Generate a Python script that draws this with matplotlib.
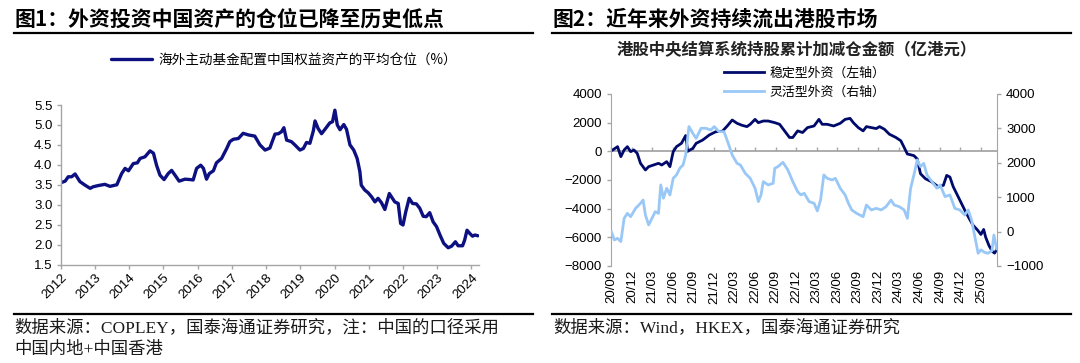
import matplotlib
matplotlib.use("Agg")
import matplotlib.pyplot as plt
from matplotlib.lines import Line2D
import numpy as np

plt.rcParams['font.family'] = ['Liberation Sans', 'Noto Sans CJK SC', 'DejaVu Sans']
CJK = ['Noto Sans CJK SC', 'DejaVu Sans']
SRC = ['Liberation Serif', 'Noto Sans CJK SC', 'DejaVu Sans']

# ---------------- Data: Figure 1 ----------------
title1 = "图1：外资投资中国资产的仓位已降至历史低点"
legend1 = "海外主动基金配置中国权益资产的平均仓位（%）"
source1_lines = ["数据来源：COPLEY，国泰海通证券研究，注：中国的口径采用", "中国内地+中国香港"]
pos_year = [2012.00, 2012.13, 2012.22, 2012.32, 2012.42, 2012.56, 2012.71, 2012.86, 2012.95,
            2013.10, 2013.29, 2013.44, 2013.64, 2013.78, 2013.88, 2013.98, 2014.12, 2014.24,
            2014.32, 2014.46, 2014.61, 2014.71, 2014.80, 2014.90, 2015.02, 2015.14, 2015.24,
            2015.34, 2015.46, 2015.63, 2015.78, 2015.87, 2015.97, 2016.09, 2016.17, 2016.26,
            2016.34, 2016.46, 2016.55, 2016.70, 2016.85, 2016.94, 2017.04, 2017.19, 2017.33,
            2017.48, 2017.67, 2017.82, 2017.97, 2018.11, 2018.26, 2018.36, 2018.45, 2018.52,
            2018.60, 2018.74, 2018.84, 2018.99, 2019.09, 2019.18, 2019.28, 2019.38, 2019.43,
            2019.52, 2019.62, 2019.72, 2019.86, 2019.94, 2020.01, 2020.08, 2020.16, 2020.27,
            2020.35, 2020.45, 2020.56, 2020.66, 2020.74, 2020.78, 2020.88, 2020.98, 2021.08,
            2021.18, 2021.27, 2021.37, 2021.47, 2021.60, 2021.66, 2021.76, 2021.86, 2021.93,
            2022.00, 2022.08, 2022.18, 2022.28, 2022.39, 2022.49, 2022.59, 2022.68, 2022.78,
            2022.88, 2022.98, 2023.08, 2023.19, 2023.32, 2023.42, 2023.53, 2023.61, 2023.74,
            2023.80, 2023.87, 2023.95, 2024.03, 2024.10, 2024.19]
pos_value = [3.55, 3.59, 3.70, 3.70, 3.77, 3.58, 3.49, 3.41, 3.45,
             3.48, 3.51, 3.46, 3.50, 3.78, 3.91, 3.85, 4.03, 4.05,
             4.16, 4.20, 4.35, 4.29, 3.99, 3.74, 3.63, 3.78, 3.86,
             3.74, 3.59, 3.64, 3.63, 3.62, 3.91, 3.99, 3.91, 3.64,
             3.78, 3.85, 4.05, 4.16, 4.41, 4.58, 4.64, 4.66, 4.79,
             4.75, 4.72, 4.50, 4.37, 4.42, 4.77, 4.78, 4.83, 4.93,
             4.62, 4.58, 4.50, 4.37, 4.41, 4.56, 4.54, 4.85, 5.10,
             4.91, 4.78, 4.89, 5.05, 5.08, 5.37, 5.00, 4.88, 5.01,
             4.89, 4.50, 4.37, 4.16, 3.83, 3.49, 3.37, 3.30, 3.20,
             3.07, 3.16, 3.05, 2.88, 3.28, 3.20, 3.07, 3.03, 2.53,
             2.49, 2.82, 3.16, 3.03, 3.02, 2.91, 2.71, 2.70, 2.80,
             2.57, 2.45, 2.24, 2.03, 1.92, 1.96, 2.07, 1.97, 1.97,
             2.11, 2.36, 2.28, 2.21, 2.24, 2.22]
year_ticks = list(range(2012, 2025))
y1_ticks = [1.5, 2.0, 2.5, 3.0, 3.5, 4.0, 4.5, 5.0, 5.5]

# ---------------- Data: Figure 2 ----------------
title2 = "图2：近年来外资持续流出港股市场"
chart2_title = "港股中央结算系统持股累计加减仓金额（亿港元）"
stable_label = "稳定型外资（左轴）"
flex_label = "灵活型外资（右轴）"
source2 = "数据来源：Wind，HKEX，国泰海通证券研究"
# months elapsed since 2020/09
stable_month = [0.19, 0.91, 1.39, 1.87, 2.34, 2.82, 3.30, 3.78, 4.26, 4.98, 5.45, 6.17, 6.89,
                7.37, 8.09, 8.56, 9.04, 9.52, 10.24, 10.86, 11.15, 11.91, 12.39, 13.35, 14.31,
                15.26, 16.22, 16.94, 17.66, 18.37, 19.09, 19.81, 20.29, 21.00, 21.48, 22.20,
                22.92, 23.88, 24.59, 25.31, 26.03, 26.51, 27.22, 27.94, 28.66, 29.62, 30.33,
                30.81, 31.53, 32.49, 33.44, 34.16, 34.88, 35.36, 36.08, 36.79, 37.27, 37.99,
                38.71, 39.19, 39.90, 40.62, 41.58, 42.30, 42.78, 43.25, 44.21, 44.69, 45.17,
                45.89, 46.84, 47.80, 48.52, 49.00, 49.47, 49.95, 50.91, 51.87, 52.82, 53.50,
                54.00, 54.40, 54.70, 55.20, 55.70, 56.00, 56.30]
stable_value = [93, 326, -372, 93, 326, -23, 93, -140, -837, -1300, -1070, -953, -837,
                -953, -720, -1070, -23, 326, 558, 1100, 0, 209, 558, 790, 1140,
                1370, 1400, 1770, 2185, 1955, 1817, 1725, 1886, 2230, 2000, 2116,
                2116, 2000, 1886, 1426, 966, 966, 1426, 1311, 1656, 1770, 2230,
                1886, 1886, 1770, 1955, 2230, 2300, 2000, 1656, 1426, 1725, 1656,
                1587, 1725, 1540, 1196, 966, 736, 276, -184, -300, -530, -1564,
                -1909, -2139, -2484, -2369, -1679, -1794, -2465, -3395, -4326, -5140, -5490,
                -5800, -5450, -6000, -6600, -7000, -7100, -6850]
flex_month = [0.00, 0.43, 0.91, 1.39, 1.87, 2.34, 2.82, 3.54, 4.26, 4.64, 4.98, 5.45, 5.93,
              6.41, 6.89, 7.22, 7.61, 8.09, 8.56, 9.04, 9.52, 10.00, 10.48, 10.86, 11.34,
              11.91, 12.39, 13.11, 13.83, 14.55, 15.02, 15.74, 16.46, 17.08, 17.66, 18.37,
              18.85, 19.57, 20.29, 21.00, 21.48, 21.87, 22.20, 22.92, 23.64, 23.88, 24.35,
              25.07, 25.79, 26.51, 27.22, 27.70, 28.18, 28.90, 29.62, 30.10, 30.57, 31.05,
              31.53, 32.25, 32.73, 33.44, 34.16, 34.64, 35.12, 35.84, 36.79, 37.27, 37.99,
              38.71, 39.43, 40.14, 40.86, 41.34, 42.06, 42.78, 43.25, 43.73, 44.21, 44.69,
              45.17, 45.65, 46.12, 46.84, 47.56, 48.04, 48.76, 49.47, 50.19, 50.91, 51.63,
              52.15, 52.63, 53.11, 53.59, 54.00, 54.50, 55.00, 55.60, 55.90, 56.30]
flex_value = [0, -242, -196, -290, 385, 530, 434, 676, 822, 918, 484, 194, 385,
              580, 530, 1357, 969, 1260, 1066, 1550, 1647, 1841, 1938, 2229, 3053,
              2857, 2711, 3003, 3003, 2953, 3053, 2905, 2905, 2566, 2227, 1984,
              1938, 1694, 1550, 1260, 872, 1066, 1453, 1357, 1405, 1841, 1890,
              2014, 1793, 1453, 1162, 1066, 1114, 872, 822, 600, 918, 1647,
              1550, 1500, 1550, 1260, 1066, 822, 630, 530, 434, 773, 630,
              676, 630, 725, 918, 773, 725, 630, 385, 1260, 1647, 2083,
              1890, 1984, 1647, 1453, 1260, 1357, 1017, 1066, 676, 630, 484,
              630, 339, -145, -630, -530, -600, -630, -560, -100, -500]
quarter_labels = ["20/09", "20/12", "21/03", "21/06", "21/09", "21/12", "22/03", "22/06",
                  "22/09", "22/12", "23/03", "23/06", "23/09", "23/12", "24/03", "24/06",
                  "24/09", "24/12", "25/03"]
y2_left_ticks = [-8000, -6000, -4000, -2000, 0, 2000, 4000]
y2_right_ticks = [-1000, 0, 1000, 2000, 3000, 4000]

# ---------------- Figure ----------------
W, H = 1080, 363
fig = plt.figure(figsize=(W / 100, H / 100), dpi=100)
fig.patch.set_facecolor('white')

def fx(px):
    return px / W

def fy(py):
    return 1 - py / H

GRAY = '#a6a6a6'
NAVY1 = '#0d1080'
NAVY2 = '#000a6b'
LIGHT = '#99c8f7'

# titles and rules
fig.text(fx(14), fy(19), title1, family=CJK, fontsize=15, fontweight='bold', va='center', ha='left')
fig.text(fx(553), fy(19), title2, family=CJK, fontsize=15, fontweight='bold', va='center', ha='left')
for x0, x1 in [(14, 533), (552, 1071)]:
    fig.add_artist(Line2D([fx(x0), fx(x1)], [fy(33), fy(33)], color='black', lw=1.6))
    fig.add_artist(Line2D([fx(x0), fx(x1)], [fy(313.5), fy(313.5)], color='black', lw=1.6))

# sources
fig.text(fx(14), fy(328), source1_lines[0], family=SRC, fontsize=12.5, va='center', ha='left',
         color='#1a1a1a')
fig.text(fx(14), fy(350), source1_lines[1], family=SRC, fontsize=12.5, va='center', ha='left',
         color='#1a1a1a')
fig.text(fx(553), fy(328), source2, family=SRC, fontsize=12.5, va='center', ha='left',
         color='#1a1a1a')

# ---------------- Chart 1 ----------------
ax1 = fig.add_axes([fx(60.7), fy(264.5), fx(479 - 60.7), (264.5 - 105) / H])
line1, = ax1.plot(pos_year, pos_value, color=NAVY1, lw=2.4, solid_joinstyle='round',
                  solid_capstyle='round', label=legend1)
ax1.set_xlim(2012, 2024.22)
ax1.set_ylim(1.5, 5.5)
ax1.set_yticks(y1_ticks)
ax1.set_yticklabels([f"{v:.1f}" for v in y1_ticks])
ax1.set_xticks(year_ticks)
ax1.set_xticklabels([str(y) for y in year_ticks], rotation=45, ha='right',
                    rotation_mode='anchor')
for s in ['top', 'right']:
    ax1.spines[s].set_visible(False)
for s in ['left', 'bottom']:
    ax1.spines[s].set_color(GRAY)
    ax1.spines[s].set_linewidth(1.0)
ax1.tick_params(axis='both', colors=GRAY, labelcolor='black', labelsize=9.5, length=3, width=1.0)
ax1.tick_params(axis='x', pad=2)
ax1.tick_params(axis='y', pad=3)

fig.legend(handles=[line1], labels=[legend1], loc='center left',
           bbox_to_anchor=(fx(111), fy(60)), frameon=False, borderpad=0, borderaxespad=0,
           handlelength=3.0, handletextpad=0.5, prop={'family': CJK, 'size': 9.8})

# ---------------- Chart 2 ----------------
ax2 = fig.add_axes([fx(611), fy(266), fx(997 - 611), (266 - 94) / H])
ax2r = ax2.twinx()
ax2.axhline(0, color=GRAY, lw=1.3, zorder=1)
l_stable, = ax2.plot(stable_month, stable_value, color=NAVY2, lw=2.0, zorder=2,
                     solid_joinstyle='round', label=stable_label)
l_flex, = ax2r.plot(flex_month, flex_value, color=LIGHT, lw=2.0, zorder=3,
                    solid_joinstyle='round', label=flex_label)
ax2.set_xlim(-0.05, 56.35)
ax2.set_ylim(-8000, 4000)
ax2r.set_ylim(-1000, 4000)
ax2.set_yticks(y2_left_ticks)
ax2r.set_yticks(y2_right_ticks)
qticks = [3 * i for i in range(len(quarter_labels))]
ax2.set_xticks(qticks)
ax2.set_xticklabels(quarter_labels, rotation=90, va='top', ha='center')
ax2.tick_params(axis='x', length=0, labelsize=9.5, pad=3)
ax2.tick_params(axis='y', colors=GRAY, labelcolor='black', labelsize=9.5, length=3, width=1.0)
ax2r.tick_params(axis='y', colors=GRAY, labelcolor='black', labelsize=9.5, length=3, width=1.0)
for a in (ax2, ax2r):
    a.spines['top'].set_visible(False)
    a.spines['bottom'].set_visible(False)
    a.spines['left'].set_color(GRAY)
    a.spines['right'].set_color(GRAY)
ax2.spines['right'].set_visible(False)
ax2r.spines['left'].set_visible(False)

zero_frac = (0 - (-8000)) / (4000 - (-8000))
sec = ax2.secondary_xaxis(zero_frac)
sec.set_xticks(qticks)
sec.tick_params(axis='x', labelbottom=False, labeltop=False, direction='out', length=3,
                color=GRAY, width=1.0)
sec.spines['bottom'].set_visible(False)
sec.spines['top'].set_visible(False)

# flex line above the stable line
ax2r.set_zorder(ax2.get_zorder() + 1)
ax2r.patch.set_visible(False)

fig.text(fx(797), fy(50), chart2_title, family=CJK, fontsize=11.8, fontweight='bold',
         va='center', ha='center', color='#222222')
fig.legend(handles=[l_stable, l_flex], labels=[stable_label, flex_label], loc='upper left',
           bbox_to_anchor=(fx(724), fy(67)), frameon=False, borderpad=0, borderaxespad=0,
           handlelength=3.1, handletextpad=0.4, labelspacing=0.45,
           prop={'family': CJK, 'size': 9.3})

fig.savefig('out.png', dpi=100, facecolor='white')
